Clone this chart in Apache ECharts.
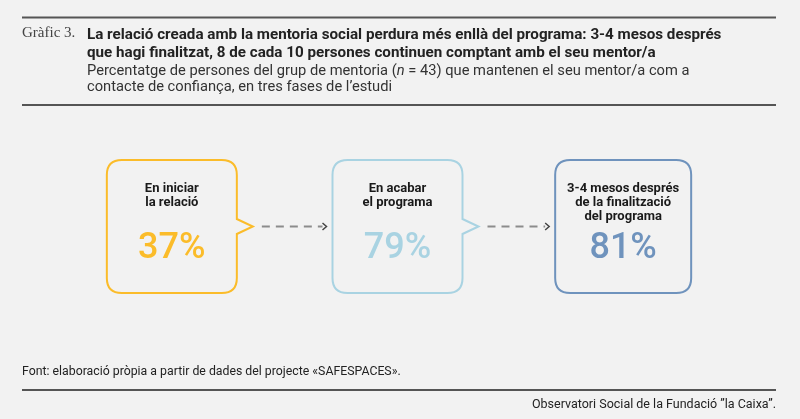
<!DOCTYPE html>
<html>
<head>
<meta charset="utf-8">
<script src="https://cdn.jsdelivr.net/npm/echarts@6/dist/echarts.min.js"></script>
<style>
html,body{margin:0;padding:0;background:#f2f2f2;}
#chart{width:800px;height:419px;}
</style>
</head>
<body>
<div id="chart"></div>
<script>
var stages = ['En iniciar\nla relació', 'En acabar\nel programa', '3-4 mesos després\nde la finalització\ndel programa'];
var values = [37, 79, 81];
var stageColors = ['#fbbc2a', '#a9d3e2', '#6f93bd'];
var chartLabel = 'Gràfic 3.';
var titleText = 'La relació creada amb la mentoria social perdura més enllà del programa: 3-4 mesos després\nque hagi finalitzat, 8 de cada 10 persones continuen comptant amb el seu mentor/a';
var subtitleText = 'Percentatge de persones del grup de mentoria ({i|n} = 43) que mantenen el seu mentor/a com a\ncontacte de confiança, en tres fases de l’estudi';
var sourceText = 'Font: elaboració pròpia a partir de dades del projecte «SAFESPACES».';
var creditText = 'Observatori Social de la Fundació ”la Caixa”.';

var chart = echarts.init(document.getElementById('chart'));
var FONT = 'Roboto, "Liberation Sans", sans-serif';

function bubblePath(x0, y0, x1, y1, r, pointer) {
  var yc = (y0 + y1) / 2;
  var p = 'M' + (x0 + r) + ' ' + y0 +
    ' L' + (x1 - r) + ' ' + y0 +
    ' Q' + x1 + ' ' + y0 + ' ' + x1 + ' ' + (y0 + r);
  if (pointer) {
    p += ' L' + x1 + ' ' + (yc - 7.5) + ' L' + (x1 + 16) + ' ' + yc + ' L' + x1 + ' ' + (yc + 7.5);
  }
  p += ' L' + x1 + ' ' + (y1 - r) +
    ' Q' + x1 + ' ' + y1 + ' ' + (x1 - r) + ' ' + y1 +
    ' L' + (x0 + r) + ' ' + y1 +
    ' Q' + x0 + ' ' + y1 + ' ' + x0 + ' ' + (y1 - r) +
    ' L' + x0 + ' ' + (y0 + r) +
    ' Q' + x0 + ' ' + y0 + ' ' + (x0 + r) + ' ' + y0 + ' Z';
  return p;
}

var option = {
  backgroundColor: '#f2f2f2',
  animation: false,
  grid: {left: 59, right: 64, top: 160, bottom: 126},
  xAxis: {type: 'category', data: stages, show: false},
  yAxis: {type: 'value', min: 0, max: 100, show: false},
  series: [{
    type: 'custom',
    data: values.map(function (v, i) { return [i, v]; }),
    renderItem: function (params, api) {
      var i = api.value(0);
      var v = api.value(1);
      var cs = params.coordSys;
      var cx = api.coord([i, 0])[0];
      var w = i === values.length - 1 ? 136 : 130;
      var x0 = cx - w / 2, x1 = cx + w / 2;
      var y0 = cs.y, y1 = cs.y + cs.height;
      var yc = (y0 + y1) / 2;
      var col = stageColors[i];
      var last = i === values.length - 1;
      var children = [{
        type: 'path',
        shape: {pathData: bubblePath(x0, y0, x1, y1, 15, !last)},
        style: {fill: 'none', stroke: col, lineWidth: 2}
      }, {
        type: 'text',
        style: {
          text: stages[i], x: cx, y: y0 + 22, align: 'center', verticalAlign: 'top',
          font: 'bold 13px ' + FONT, lineHeight: 14, fill: '#1a1a1a'
        }
      }, {
        type: 'text',
        style: {
          text: v + '%', x: cx, y: y0 + 89, align: 'center', verticalAlign: 'middle',
          font: '500 36px ' + FONT, fill: col
        }
      }];
      if (!last) {
        var nx = api.coord([i + 1, 0])[0];
        var nw = (i + 1) === values.length - 1 ? 136 : 130;
        var ax0 = x1 + 25, ax1 = nx - nw / 2 - 6;
        children.push({
          type: 'line',
          shape: {x1: ax0, y1: yc, x2: ax1 - 4, y2: yc},
          style: {stroke: '#8c8c8c', lineWidth: 2, lineDash: [8, 6]}
        });
        children.push({
          type: 'polyline',
          shape: {points: [[ax1 - 4, yc - 3.5], [ax1, yc], [ax1 - 4, yc + 3.5]]},
          style: {stroke: '#444', lineWidth: 1.5, fill: 'none'}
        });
      }
      return {type: 'group', children: children};
    }
  }],
  graphic: [
    {type: 'line', shape: {x1: 22, y1: 17.5, x2: 776, y2: 17.5}, style: {stroke: '#555', lineWidth: 2}},
    {type: 'line', shape: {x1: 22, y1: 105, x2: 776, y2: 105}, style: {stroke: '#555', lineWidth: 2}},
    {type: 'line', shape: {x1: 22, y1: 390, x2: 776, y2: 390}, style: {stroke: '#555', lineWidth: 2}},
    {type: 'text', left: 22, top: 26, style: {text: chartLabel, font: '15px "Liberation Serif", serif', fill: '#444'}},
    {type: 'text', left: 87, top: 26, style: {text: titleText, font: 'bold 15.2px ' + FONT, lineHeight: 18, fill: '#222'}},
    {type: 'text', left: 87, top: 63, style: {
      text: subtitleText, font: '14.7px ' + FONT, lineHeight: 16.5, fill: '#333',
      rich: {i: {fontStyle: 'italic', fontSize: 14.7, fontFamily: FONT, fill: '#333'}}
    }},
    {type: 'text', left: 22, top: 366, style: {text: sourceText, font: '12.3px ' + FONT, fill: '#222'}},
    {type: 'text', right: 24, top: 398, style: {text: creditText, font: '12.5px ' + FONT, fill: '#222'}}
  ]
};
chart.setOption(option);
</script>
</body>
</html>
